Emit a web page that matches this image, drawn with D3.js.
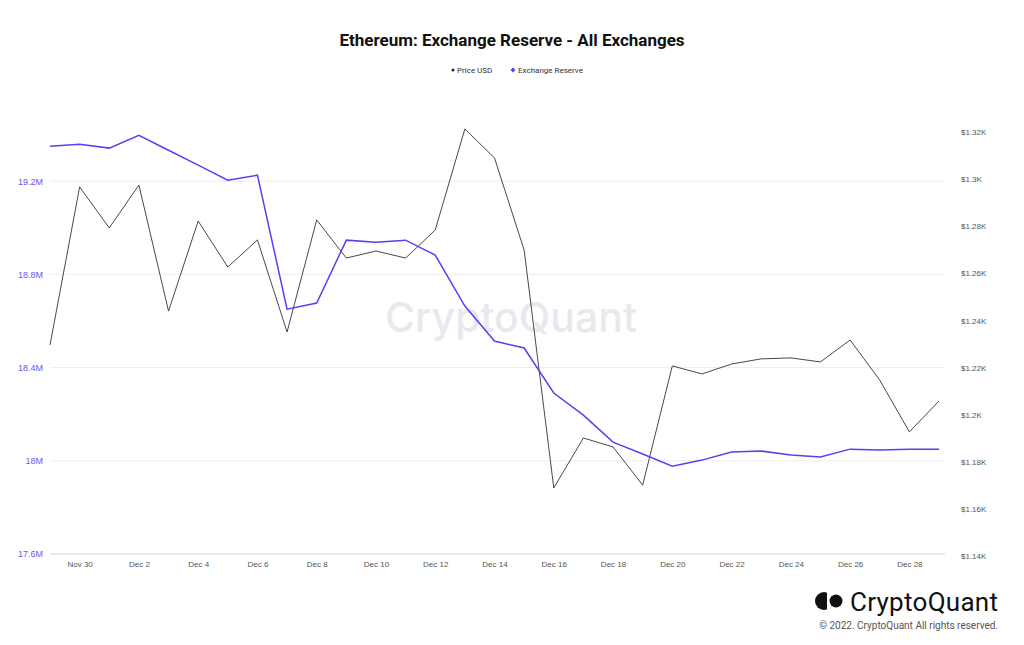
<!DOCTYPE html>
<html><head><meta charset="utf-8">
<script src="https://cdn.jsdelivr.net/npm/d3@7"></script>
<style>body{margin:0;background:#fff;font-family:Roboto,"Noto Sans",sans-serif}</style>
</head><body><svg id="c" width="1024" height="645"></svg>
<script>
const dates = d3.range(0,31).map(i=>new Date(2022,10,29+i));
const reserve = [19.350,19.359,19.342,19.397,19.333,19.269,19.204,19.226,18.651,18.677,18.947,18.938,18.947,18.883,18.664,18.514,18.484,18.291,18.196,18.080,18.029,17.977,18.003,18.038,18.042,18.025,18.016,18.050,18.046,18.050,18.050];
const price = [1229.6,1296.7,1279.3,1297.5,1244.0,1282.2,1262.7,1274.2,1235.1,1282.7,1266.5,1269.5,1266.5,1278.4,1321.3,1309.0,1269.9,1168.9,1190.1,1186.3,1170.1,1220.7,1217.3,1221.5,1223.7,1224.1,1222.4,1231.7,1214.7,1192.7,1205.8];
const leftTicks = [17.6,18.0,18.4,18.8,19.2];
const rightTicks = [1140,1160,1180,1200,1220,1240,1260,1280,1300,1320];

const svg = d3.select("#c");
const L=50,R=945,T=88,B=554;
const x = d3.scaleTime().domain([dates[0],dates[30]]).range([L,939]);
const yL = d3.scaleLinear().domain([17.6,19.6]).range([B,T]);
const yR = d3.scaleLinear().domain([1140,1338.7]).range([556,T]);

svg.append("text").attr("x",512).attr("y",46).attr("text-anchor","middle")
  .attr("font-size",17).attr("font-weight","bold").attr("fill","#111").text("Ethereum: Exchange Reserve - All Exchanges");

const lg = svg.append("g").attr("font-size",8).attr("fill","#333");
lg.append("circle").attr("cx",453).attr("cy",70).attr("r",1.5).attr("fill","#222");
lg.append("text").attr("x",457).attr("y",73).text("Price USD");
lg.append("path").attr("d","M513,67.5 L515.5,70 L513,72.5 L510.5,70Z").attr("fill","#5a3ff0");
lg.append("text").attr("x",518).attr("y",73).text("Exchange Reserve");

svg.append("g").selectAll("line").data(leftTicks).join("line")
  .attr("x1",L).attr("x2",R).attr("y1",d=>yL(d)).attr("y2",d=>yL(d))
  .attr("stroke","#ececf2").attr("stroke-width",1);
svg.append("line").attr("x1",L).attr("x2",R).attr("y1",B).attr("y2",B).attr("stroke","#dcdce6");

svg.append("text").attr("x",511).attr("y",332).attr("text-anchor","middle").attr("font-size",41)
  .attr("font-family","Inter,Roboto,sans-serif").attr("font-weight",500).attr("fill","#e8e8ee").text("CryptoQuant");

const ax = d3.axisLeft(yL).tickValues(leftTicks).tickSize(0).tickFormat(d=>d3.format(".1f")(d).replace(".0","")+"M");
const gL = svg.append("g").attr("transform",`translate(${L-6},0)`).call(ax);
gL.select(".domain").remove();
gL.selectAll("text").attr("fill","#6a55f0").attr("font-size",9).attr("dx",2);
const ar = d3.axisRight(yR).tickValues(rightTicks).tickSize(0).tickFormat(d=>"$"+d3.format(".3~f")(d/1000)+"K");
const gR = svg.append("g").attr("transform",`translate(958,0)`).call(ar);
gR.select(".domain").remove();
gR.selectAll("text").attr("fill","#555").attr("font-size",8);
const xt = dates.filter((d,i)=>i%2===1);
const axB = d3.axisBottom(x).tickValues(xt).tickSize(0).tickFormat(d3.timeFormat("%b %-d"));
const gB = svg.append("g").attr("transform",`translate(0,${B+4})`).call(axB);
gB.select(".domain").remove();
gB.selectAll("text").attr("fill","#555").attr("font-size",8);

svg.append("path").datum(price).attr("fill","none").attr("stroke","#333").attr("stroke-width",0.9)
  .attr("d",d3.line().x((d,i)=>x(dates[i])).y(d=>yR(d)));
svg.append("path").datum(reserve).attr("fill","none").attr("stroke","#5a3ff0").attr("stroke-width",1.5)
  .attr("d",d3.line().x((d,i)=>x(dates[i])).y(d=>yL(d)));

const lo = svg.append("g");
lo.append("circle").attr("cx",824).attr("cy",601).attr("r",9).attr("fill","#111");
lo.append("rect").attr("x",827).attr("y",591).attr("width",4).attr("height",20).attr("fill","#fff");
lo.append("circle").attr("cx",836).attr("cy",601).attr("r",6.5).attr("fill","#111");
lo.append("text").attr("x",850).attr("y",611).attr("font-size",26).attr("textLength",148).attr("fill","#111").text("CryptoQuant");
svg.append("text").attr("x",998).attr("y",629).attr("text-anchor","end").attr("font-size",10).attr("fill","#555").text("© 2022. CryptoQuant All rights reserved.");
</script></body></html>
